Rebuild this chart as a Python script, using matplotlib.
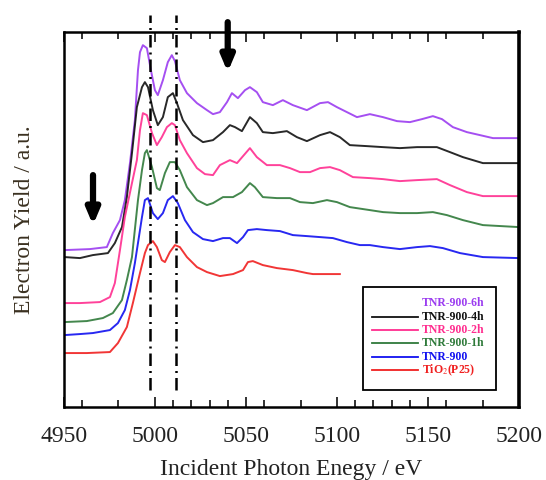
import numpy as np
import matplotlib
matplotlib.use("Agg")
import matplotlib.pyplot as plt
from matplotlib.lines import Line2D
from matplotlib.patches import Rectangle

plt.rcParams["font.family"] = ["Liberation Serif", "DejaVu Serif"]
plt.rcParams["mathtext.fontset"] = "stix"

# ---- data (energy in eV, electron yield in a.u.) ----
e_6h = [4950.5, 4964.3, 4973.6, 4976.9, 4980.8, 4983.5, 4986.3, 4989.0, 4990.7, 4991.8,
        4993.4, 4995.6, 4997.8, 5000.0, 5001.6, 5004.4, 5007.1, 5009.3, 5011.0, 5013.7,
        5017.6, 5023.1, 5028.6, 5031.9, 5035.7, 5039.6, 5042.3, 5045.6, 5049.5, 5052.2,
        5056.0, 5059.3, 5064.8, 5070.3, 5075.8, 5083.5, 5090.7, 5095.1, 5100.0, 5105.5,
        5111.0, 5118.1, 5125.3, 5133.0, 5140.1, 5146.7, 5152.7, 5157.7, 5163.7, 5171.4,
        5178.6, 5185.7, 5200.0]
y_6h = [157, 158, 160, 174, 187, 207, 244, 287, 337, 355,
        362, 359, 337, 317, 312, 327, 345, 352, 346, 327,
        314, 304, 297, 293, 295, 305, 314, 309, 317, 320,
        315, 305, 302, 307, 302, 297, 304, 305, 300, 295,
        290, 293, 290, 286, 285, 288, 291, 288, 280, 275,
        272, 269, 269]

e_4h = [4950.5, 4958.8, 4965.9, 4974.2, 4978.0, 4981.9, 4984.6, 4987.4, 4990.1, 4992.9,
        4994.5, 4996.2, 4998.9, 5001.6, 5004.4, 5007.1, 5009.9, 5012.1, 5015.4, 5020.9,
        5026.4, 5031.9, 5037.4, 5041.2, 5044.0, 5047.8, 5052.2, 5056.0, 5059.3, 5064.8,
        5072.5, 5078.0, 5083.5, 5090.7, 5096.2, 5101.6, 5107.1, 5116.5, 5125.3, 5134.6,
        5144.0, 5154.9, 5162.1, 5169.2, 5180.2, 5200.0]
y_4h = [150, 149, 152, 154, 164, 180, 210, 254, 300, 320,
        325, 320, 297, 282, 290, 310, 314, 304, 287, 272,
        265, 267, 275, 282, 280, 276, 290, 284, 275, 274,
        276, 270, 266, 272, 275, 270, 262, 261, 260, 259,
        260, 260, 255, 250, 244, 244]

e_2h = [4950.5, 4958.8, 4969.8, 4975.3, 4978.0, 4980.8, 4983.5, 4987.4, 4990.1, 4991.8,
        4993.4, 4995.6, 4998.4, 5001.1, 5003.8, 5006.6, 5009.3, 5011.0, 5013.7, 5017.6,
        5023.1, 5027.5, 5031.9, 5035.7, 5041.2, 5045.1, 5052.2, 5056.0, 5061.5, 5068.7,
        5074.2, 5079.7, 5085.2, 5090.7, 5096.2, 5101.6, 5108.8, 5118.1, 5125.3, 5134.6,
        5144.0, 5154.9, 5162.1, 5171.4, 5180.2, 5200.0]
y_2h = [104, 104, 105, 110, 124, 157, 190, 224, 247, 277,
        294, 292, 274, 262, 270, 280, 284, 282, 267, 254,
        239, 233, 232, 242, 247, 244, 259, 250, 242, 242,
        239, 235, 235, 239, 240, 237, 230, 229, 228, 226,
        227, 228, 222, 215, 211, 211]

e_1h = [4950.5, 4962.6, 4971.4, 4976.9, 4981.9, 4984.6, 4987.4, 4990.7, 4992.9, 4994.5,
        4995.6, 4998.4, 5001.1, 5002.7, 5005.5, 5008.2, 5011.0, 5013.7, 5017.6, 5023.1,
        5028.6, 5031.9, 5037.4, 5042.9, 5047.8, 5052.2, 5054.9, 5059.3, 5067.0, 5074.2,
        5079.7, 5086.8, 5094.5, 5100.0, 5107.1, 5118.1, 5125.3, 5134.6, 5144.0, 5152.7,
        5160.4, 5169.2, 5180.2, 5200.0]
y_1h = [85, 86, 89, 94, 107, 127, 150, 207, 237, 254,
        257, 240, 219, 217, 234, 245, 245, 237, 220, 207,
        202, 204, 210, 210, 215, 224, 220, 210, 209, 209,
        205, 204, 207, 205, 200, 197, 195, 194, 194, 195,
        192, 187, 182, 180]

e_900 = [4950.5, 4958.8, 4965.9, 4975.3, 4979.7, 4983.5, 4986.3, 4989.0, 4990.7, 4992.9,
         4994.5, 4996.2, 4998.9, 5001.6, 5004.4, 5007.1, 5009.9, 5012.6, 5016.5, 5020.9,
         5026.4, 5031.9, 5037.4, 5041.2, 5045.1, 5048.4, 5051.1, 5056.0, 5061.5, 5068.7,
         5075.8, 5083.5, 5090.7, 5097.8, 5105.5, 5112.6, 5118.1, 5125.3, 5134.6, 5144.0,
         5151.1, 5158.2, 5167.6, 5180.2, 5200.0]
y_900 = [72, 73, 74, 77, 84, 97, 117, 144, 164, 190,
         207, 209, 194, 188, 194, 207, 211, 204, 187, 175,
         168, 166, 169, 169, 164, 170, 177, 178, 177, 176,
         172, 171, 170, 169, 165, 162, 162, 160, 158, 160,
         161, 159, 154, 150, 149]

e_p25 = [4950.5, 4962.6, 4975.3, 4979.7, 4984.6, 4987.9, 4991.8, 4994.5, 4996.2, 4998.9,
         5001.1, 5003.8, 5005.5, 5008.2, 5011.0, 5013.7, 5017.6, 5023.1, 5028.6, 5035.7,
         5042.9, 5048.4, 5051.1, 5053.8, 5059.3, 5067.0, 5075.8, 5083.5, 5086.8, 5101.6]
y_p25 = [54, 54, 55, 64, 80, 104, 134, 154, 162, 166,
         160, 147, 145, 155, 162, 160, 150, 140, 135, 131,
         133, 137, 145, 146, 142, 139, 137, 134, 133, 133]

labels = ["TNR-900-6h", "TNR-900-4h", "TNR-900-2h", "TNR-900-1h", "TNR-900", "TiO$_2$(P25)"]
colors = ["#9b3cf0", "#111111", "#ff2d8f", "#2f7a3a", "#1010f0", "#f02020"]
series = [(e_6h, y_6h), (e_4h, y_4h), (e_2h, y_2h), (e_1h, y_1h), (e_900, y_900), (e_p25, y_p25)]

pre_edge_lines = [4997.3, 5011.5]      # dash-dot markers
arrows = [(4966.0, 232, 182), (5040.0, 385, 335)]   # x, tail, tip

major_ticks = [4950, 5000, 5050, 5100, 5150, 5200]
minor_ticks = [4960, 4980, 5010, 5020, 5030, 5040, 5060, 5080,
               5110, 5120, 5130, 5140, 5160, 5180]

fig = plt.figure(figsize=(5.46, 4.8), dpi=100)
ax = fig.add_axes([0.117, 0.152, 0.8335, 0.781])

for (e, y), c in zip(series, colors):
    ax.plot(e, y, color=c, lw=1.4, alpha=0.9, solid_joinstyle="round")

for xv in pre_edge_lines:
    ax.plot([xv, xv], [17, 392], color="black", lw=1.8, dashes=[5, 2, 0.8, 2],
            clip_on=False)

for xv, tail, tip in arrows:
    ax.annotate("", xy=(xv, tip), xytext=(xv, tail), annotation_clip=False,
                arrowprops=dict(arrowstyle="-|>,head_length=0.9,head_width=0.38",
                                lw=4.5, color="black", shrinkA=0, shrinkB=0))

ax.set_xlim(4950, 5200)
ax.set_ylim(0, 375)
ax.set_xticks(major_ticks)
ax.set_xticks(minor_ticks, minor=True)
ax.set_yticks([])
ax.tick_params(axis="x", which="both", direction="in", top=True, bottom=True,
               labelsize=17, pad=14, colors="#222222", width=1.3)
ax.tick_params(axis="x", which="major", length=7)
ax.tick_params(axis="x", which="minor", length=5)
for name, sp in ax.spines.items():
    sp.set_linewidth(2.6 if name == "right" else 1.8)

ax.set_xlabel("Incident Photon Enegy / eV", fontsize=17, color="#222222", labelpad=8)
ax.set_ylabel("Electron Yield / a.u.", fontsize=17, color="#3a3020", labelpad=21)

# legend box drawn in axes fraction
ax.add_patch(Rectangle((0.657, 0.045), 0.292, 0.275, transform=ax.transAxes,
                       fill=False, edgecolor="black", lw=1.3, clip_on=False))
row_y = np.linspace(0.277, 0.099, len(labels))
for i, (lab, c, ry) in enumerate(zip(labels, colors, row_y)):
    if i > 0:
        ax.add_line(Line2D([0.677, 0.778], [ry, ry], transform=ax.transAxes,
                           color=c, lw=1.3))
    ax.text(0.786, ry, lab, transform=ax.transAxes, color=c, fontsize=8.5,
            va="center", ha="left", fontweight="bold")

fig.savefig("out.png", dpi=100)
